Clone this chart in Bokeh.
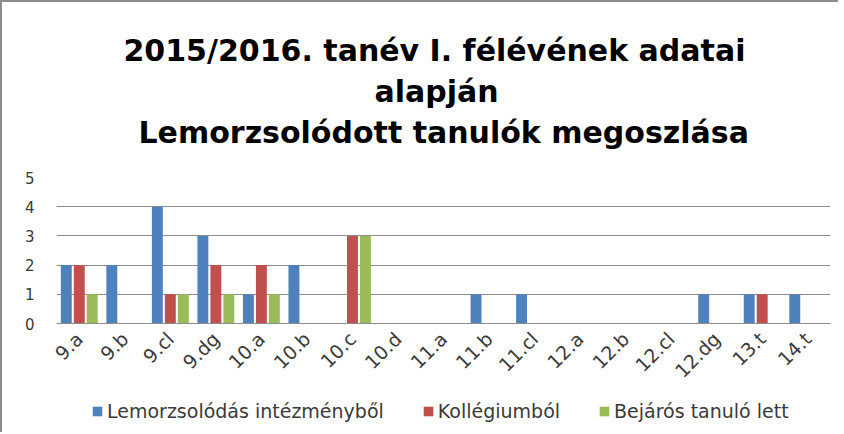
import math
from bokeh.plotting import figure
from bokeh.layouts import column
from bokeh.models import ColumnDataSource, FactorRange, Legend, LegendItem, Title, Range1d
from bokeh.transform import dodge
from bokeh.embed import file_html
from bokeh.resources import INLINE

classes = ["9.a", "9.b", "9.cl", "9.dg", "10.a", "10.b", "10.c", "10.d", "11.a",
           "11.b", "11.cl", "12.a", "12.b", "12.cl", "12.dg", "13.t", "14.t"]
lemorzsolodas = [2, 2, 4, 3, 1, 2, 0, 0, 0, 1, 1, 0, 0, 0, 1, 1, 1]
kollegiumbol = [2, 0, 1, 2, 2, 0, 3, 0, 0, 0, 0, 0, 0, 0, 0, 1, 0]
bejaros = [1, 0, 1, 1, 1, 0, 3, 0, 0, 0, 0, 0, 0, 0, 0, 0, 0]
series_names = ["Lemorzsolódás intézményből", "Kollégiumból", "Bejárós tanuló lett"]
title_lines = ["2015/2016. tanév I. félévének adatai", "alapján", "Lemorzsolódott tanulók megoszlása"]
y_ticks = [0, 1, 2, 3, 4, 5]

colors = ["#4F81BD", "#C0504D", "#9BBB59"]
FONT = "DejaVu Sans"
TXT = "#3a3a3a"
BORDER = "2px solid #8c8c8c"
W = 838

src = ColumnDataSource(dict(cls=classes, a=lemorzsolodas, b=kollegiumbol, c=bejaros))

p = figure(x_range=FactorRange(*classes), y_range=(0, 5), width=W, height=395,
           output_backend="svg", toolbar_location=None, title=None,
           min_border_left=54, min_border_right=10, min_border_top=175, min_border_bottom=74)

for col, off, c in zip(["a", "b", "c"], [-0.285, 0.0, 0.285], colors):
    p.vbar(x=dodge("cls", off, range=p.x_range), top=col, width=0.24, source=src,
           fill_color=c, line_color=None)

# blank spacer between the plot area and the title block
p.add_layout(Title(text=" ", text_font_size="2px", standoff=24), "above")

standoffs = [0, 8, 0]
offsets = [67, 318, 82]
for t, s, o in reversed(list(zip(title_lines, standoffs, offsets))):
    p.add_layout(Title(text=t, align="left", offset=o, text_font=FONT, text_font_size="30px",
                       text_font_style="bold", text_color="black", standoff=s), "above")

p.outline_line_color = None
p.xgrid.grid_line_color = None
p.ygrid.grid_line_color = "#8c8c8c"
p.ygrid.ticker = y_ticks

p.yaxis.ticker = y_ticks
p.yaxis.axis_line_color = None
p.yaxis.major_tick_line_color = None
p.yaxis.minor_tick_line_color = None
p.yaxis.major_tick_out = 0
p.yaxis.major_label_text_font = FONT
p.yaxis.major_label_text_font_size = "15px"
p.yaxis.major_label_text_color = TXT
p.yaxis.major_label_standoff = 22

xax = p.below[0]
xax.axis_line_color = "#8c8c8c"
xax.major_tick_line_color = None
xax.minor_tick_line_color = None
xax.major_tick_out = 0
xax.major_label_orientation = math.pi / 4
xax.major_label_text_font = FONT
xax.major_label_text_font_size = "19px"
xax.major_label_text_color = TXT
xax.major_label_standoff = 12

p.styles = {"border-top": BORDER, "border-left": BORDER}

# legend strip below the chart (its frame is aligned with the chart's frame)
leg = figure(width=W, height=37, x_range=Range1d(0, 1), y_range=Range1d(0, 1),
             output_backend="svg", toolbar_location=None,
             min_border_left=0, min_border_right=0, min_border_top=0, min_border_bottom=0)
leg.axis.visible = False
leg.grid.visible = False
leg.outline_line_color = None
leg.styles = {"border-left": BORDER}
dummy = ColumnDataSource(dict(x=[0.5], top=[0]))
dummies = [leg.vbar(x="x", top="top", width=0.01, source=dummy, fill_color=c, line_color=None)
           for c in colors]
legend = Legend(items=[LegendItem(label=n, renderers=[r]) for n, r in zip(series_names, dummies)],
                orientation="horizontal", location=(35, 10), spacing=38,
                label_text_font=FONT, label_text_font_size="19px", label_text_color=TXT,
                glyph_width=12, glyph_height=12, label_height=14, label_standoff=4,
                border_line_color=None, background_fill_alpha=0, padding=0, margin=0)
leg.add_layout(legend)

layout = column(p, leg, spacing=0)
open("out.html", "w").write(file_html(layout, INLINE))
